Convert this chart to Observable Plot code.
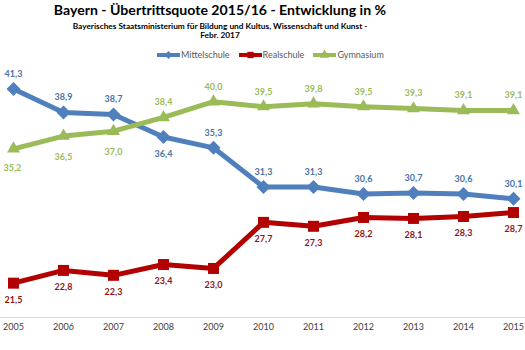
<!DOCTYPE html>
<html>
<head>
<meta charset="utf-8">
<script src="https://cdn.jsdelivr.net/npm/d3@7"></script>
<script src="https://cdn.jsdelivr.net/npm/@observablehq/plot@0.6"></script>
<style>
  body { margin: 0; background: #fff; font-family: Lato, "Open Sans", sans-serif; }
  #wrap { position: relative; width: 525px; height: 350px; overflow: hidden; }
  #header { position: relative; width: 525px; height: 62px; }
  .title { position: absolute; left: 0; width: 440px; text-align: center; top: 2px; font-size: 14.1px; font-weight: bold; color: #000; line-height: 16px; white-space: nowrap; }
  .sub { position: absolute; left: 0; width: 440px; text-align: center; font-size: 8.3px; font-weight: bold; color: #000; line-height: 9px; white-space: nowrap; }
  #legend { position: absolute; left: 157px; top: 49px; display: flex; align-items: center; font-size: 9px; color: #595959; white-space: nowrap; }
  #legend .item { display: flex; align-items: center; margin-right: 9px; }
  #legend svg { margin-right: 1px; }
</style>
</head>
<body>
<div id="wrap">
  <div id="header">
    <div class="title">Bayern - Übertrittsquote 2015/16 - Entwicklung in %</div>
    <div class="sub" style="top:22px">Bayerisches Staatsministerium für Bildung und Kultus, Wissenschaft und Kunst -</div>
    <div class="sub" style="top:31px">Febr. 2017</div>
    <div id="legend"></div>
  </div>
  <div id="chart"></div>
</div>
<script>
const years = [2005, 2006, 2007, 2008, 2009, 2010, 2011, 2012, 2013, 2014, 2015];
const mittelschule = [41.3, 38.9, 38.7, 36.4, 35.3, 31.3, 31.3, 30.6, 30.7, 30.6, 30.1];
const realschule   = [21.5, 22.8, 22.3, 23.4, 23.0, 27.7, 27.3, 28.2, 28.1, 28.3, 28.7];
const gymnasium    = [35.2, 36.5, 37.0, 38.4, 40.0, 39.5, 39.8, 39.5, 39.3, 39.1, 39.1];
const seriesNames  = ["Mittelschule", "Realschule", "Gymnasium"];

// styling
const lineColors  = {Mittelschule: "#4F7FBC", Realschule: "#B30000", Gymnasium: "#9BBB59"};
const labelColors = {Mittelschule: "#4A73A6", Realschule: "#8E1515", Gymnasium: "#9BBB59"};
const symbols     = {Mittelschule: "diamond2", Realschule: "square", Gymnasium: "triangle"};
const symbolR     = {Mittelschule: 6.3, Realschule: 6.2, Gymnasium: 4.8};
// label placement (Excel-like): default "above"; exceptions
const placement = {
  Realschule: () => "below",
  Mittelschule: (yr) => yr === 2008 ? "below" : "above",
  Gymnasium: (yr) => yr === 2005 ? "belowleft" : (yr <= 2007 ? "below" : "above")
};

const valuesBy = {Mittelschule: mittelschule, Realschule: realschule, Gymnasium: gymnasium};
const rows = seriesNames.flatMap(s => years.map((yr, i) => ({series: s, year: yr, value: valuesBy[s][i], place: placement[s](yr)})));
const fmt = v => d3.format(".1f")(v).replace(".", ",");

const marks = [
  Plot.ruleY([18], {stroke: "#D9D9D9", strokeWidth: 1.2}),
  Plot.axisX({ticks: years, tickSize: 0, tickPadding: 6, tickFormat: d => String(d), label: null, fontSize: 9, color: "#404040", fill: "#404040"})
];
for (const s of seriesNames) {
  const data = rows.filter(r => r.series === s);
  marks.push(Plot.line(data, {x: "year", y: "value", stroke: lineColors[s], strokeWidth: 5, strokeLinejoin: "round"}));
  marks.push(Plot.dot(data, {x: "year", y: "value", symbol: () => symbols[s], r: symbolR[s], fill: lineColors[s], stroke: "none"}));
  const above = data.filter(r => r.place === "above");
  const below = data.filter(r => r.place === "below");
  const belowLeft = data.filter(r => r.place === "belowleft");
  const textOpts = {x: "year", y: "value", text: d => fmt(d.value), fill: labelColors[s], fontSize: 9, fontWeight: "bold"};
  marks.push(Plot.text(above, {...textOpts, dy: -15}));
  marks.push(Plot.text(below, {...textOpts, dy: s === "Gymnasium" ? 21 : 17}));
  marks.push(Plot.text(belowLeft, {...textOpts, dy: 19, dx: -10, textAnchor: "start"}));
}

const chart = Plot.plot({
  width: 525,
  height: 288,
  marginLeft: 0,
  marginRight: 0,
  marginTop: 0,
  marginBottom: 33,
  style: {fontFamily: "Lato, 'Open Sans', sans-serif", background: "transparent", overflow: "visible"},
  x: {type: "point", domain: years, padding: 0.22, axis: null, label: null},
  y: {domain: [18, 44], axis: null},
  marks
});
document.getElementById("chart").appendChild(chart);

// legend
const legend = document.getElementById("legend");
const ns = "http://www.w3.org/2000/svg";
for (const s of seriesNames) {
  const item = document.createElement("div");
  item.className = "item";
  const sw = document.createElementNS(ns, "svg");
  sw.setAttribute("width", 23); sw.setAttribute("height", 10);
  const ln = document.createElementNS(ns, "line");
  ln.setAttribute("x1", 0); ln.setAttribute("x2", 23); ln.setAttribute("y1", 5); ln.setAttribute("y2", 5);
  ln.setAttribute("stroke", lineColors[s]); ln.setAttribute("stroke-width", 4);
  sw.appendChild(ln);
  const sym = document.createElementNS(ns, "path");
  const symType = s === "Mittelschule" ? d3.symbolDiamond2 : s === "Realschule" ? d3.symbolSquare : d3.symbolTriangle;
  sym.setAttribute("d", d3.symbol(symType, 40)());
  sym.setAttribute("transform", "translate(11.5,5)");
  sym.setAttribute("fill", lineColors[s]);
  sw.appendChild(sym);
  item.appendChild(sw);
  const t = document.createElement("span");
  t.textContent = s;
  item.appendChild(t);
  legend.appendChild(item);
}
</script>
</body>
</html>
